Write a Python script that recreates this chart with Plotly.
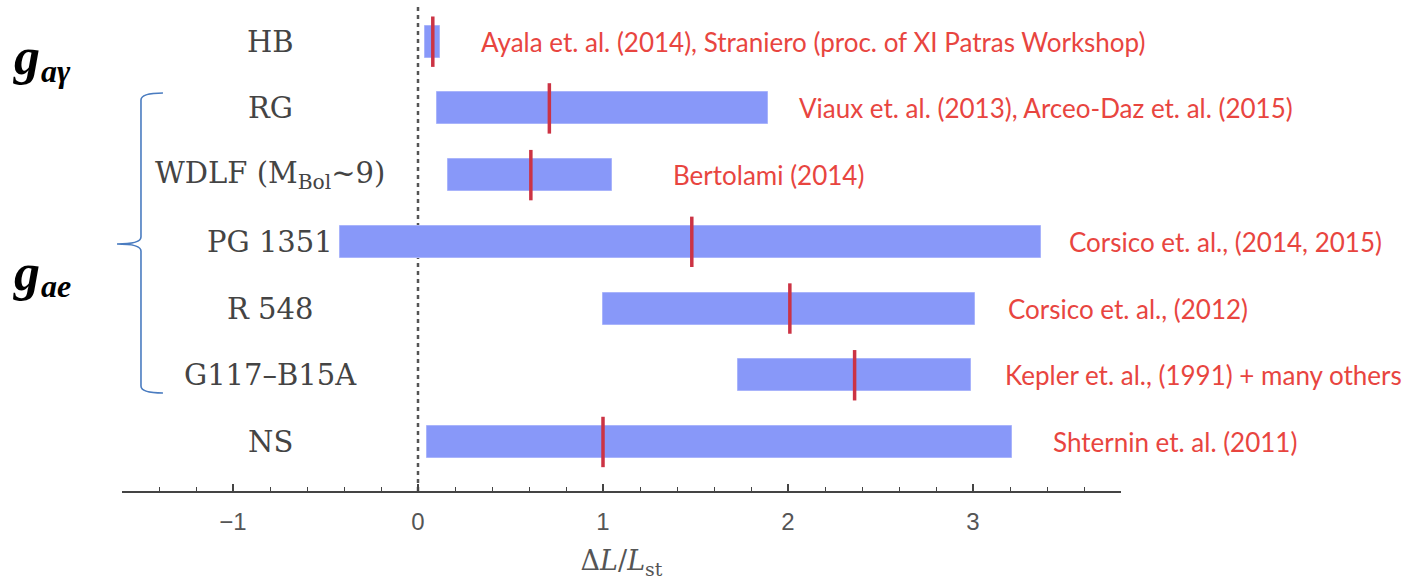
import plotly.graph_objects as go

# ---- data ----
categories = ["HB", "RG", "WDLF", "PG 1351", "R 548", "G117-B15A", "NS"]
cat_labels = ["HB", "RG", "WDLF (M<sub>Bol</sub>~9)", "PG 1351", "R 548", "G117\u2013B15A", "NS"]
low = [0.04, 0.10, 0.16, -0.42, 1.00, 1.73, 0.05]
high = [0.12, 1.89, 1.05, 3.37, 3.01, 2.99, 3.21]
median = [0.08, 0.71, 0.61, 1.48, 2.01, 2.36, 1.00]
refs = [
    "Ayala et. al. (2014), Straniero (proc. of XI Patras Workshop)",
    "Viaux et. al. (2013), Arceo-Daz et. al. (2015)",
    "Bertolami (2014)",
    "Corsico et. al., (2014, 2015)",
    "Corsico et. al., (2012)",
    "Kepler et. al., (1991) + many others",
    "Shternin et. al. (2011)",
]
tick_vals = [-1, 0, 1, 2, 3]
tick_text = ["\u22121", "0", "1", "2", "3"]

# ---- layout helpers (positions, not data) ----
ref_x = [0.33, 2.05, 1.37, 3.51, 3.18, 3.16, 3.42]
label_x = -0.80

BAR = "#8898f9"
RED = "#cc3344"
TXT_RED = "#e8453f"

fig = go.Figure()
fig.add_trace(go.Bar(
    y=categories, x=[h - l for h, l in zip(high, low)], base=low,
    orientation="h", width=0.48,
    marker=dict(color=BAR, line=dict(color="#a9b4fb", width=1)),
    showlegend=False, hoverinfo="skip",
))
fig.add_trace(go.Scatter(
    y=categories, x=median, mode="markers",
    marker=dict(symbol="line-ns", size=36, line=dict(color=RED, width=3.5)),
    showlegend=False, hoverinfo="skip",
))

annotations = []
for c, lab in zip(categories, cat_labels):
    annotations.append(dict(x=label_x, y=c, xref="x", yref="y", text=lab,
                            showarrow=False, xanchor="center", yanchor="middle",
                            font=dict(family="DejaVu Serif", size=29, color="#444444")))
for c, r, rx in zip(categories, refs, ref_x):
    annotations.append(dict(x=rx, y=c, xref="x", yref="y", text=r,
                            showarrow=False, xanchor="left", yanchor="middle",
                            font=dict(family="Lato", size=26, color=TXT_RED)))

# g labels (main letter + subscript as separate texts)
gfont = dict(family="Liberation Serif", size=52, color="black")
sfont = dict(family="Liberation Serif", size=32, color="black")
for gy, sub in [(0.884, "a\u03b3"), (0.445, "ae")]:
    annotations.append(dict(x=-0.111, y=gy, xref="paper", yref="paper",
                            text="<b><i>g</i></b>", showarrow=False,
                            xanchor="left", yanchor="middle", font=gfont))
    annotations.append(dict(x=-0.083, y=gy - 0.028, xref="paper", yref="paper",
                            text="<b><i>" + sub + "</i></b>", showarrow=False,
                            xanchor="left", yanchor="middle", font=sfont))

shapes = [
    dict(type="line", xref="x", yref="paper", x0=0, x1=0, y0=0, y1=0.99,
         line=dict(color="#555555", width=2.5, dash="4px,4px"), layer="below"),
    dict(type="path", xref="paper", yref="paper",
         path=("M 0.041,0.8106 Q 0.019,0.8106 0.019,0.7963 L 0.019,0.5173 "
               "Q 0.019,0.5031 -0.005,0.5031 Q 0.019,0.5031 0.019,0.4888 "
               "L 0.019,0.2138 Q 0.019,0.1996 0.041,0.1996"),
         line=dict(color="#4a7cc0", width=1.6)),
]

fig.update_layout(
    width=1407, height=584,
    margin=dict(l=122, r=286, t=0, b=93),
    paper_bgcolor="white", plot_bgcolor="white",
    bargap=0,
    annotations=annotations, shapes=shapes,
    xaxis=dict(
        range=[-1.6, 3.8], autorange=False,
        tickvals=tick_vals, ticktext=tick_text,
        ticks="inside", ticklen=7, tickwidth=1.5, tickcolor="#444444",
        minor=dict(dtick=0.2, tick0=0, ticks="inside", ticklen=4, tickwidth=1.2, tickcolor="#444444"),
        showline=True, linecolor="#444444", linewidth=1.5,
        showgrid=False, zeroline=False,
        tickfont=dict(family="Liberation Sans", size=24, color="#555555"),
        ticklabelstandoff=8,
        title=dict(text="\u0394<i>L</i>/<i>L</i><sub>st</sub>",
                   font=dict(family="DejaVu Serif", size=27, color="#555555"),
                   standoff=18),
    ),
    yaxis=dict(
        type="category", categoryorder="array", categoryarray=categories,
        range=[6.735, -0.625], autorange=False,
        showticklabels=False, showgrid=False, zeroline=False, showline=False, ticks="",
    ),
)

fig.write_html("out.html", config={"displayModeBar": False},
               post_script="document.body.style.margin='0px';")
